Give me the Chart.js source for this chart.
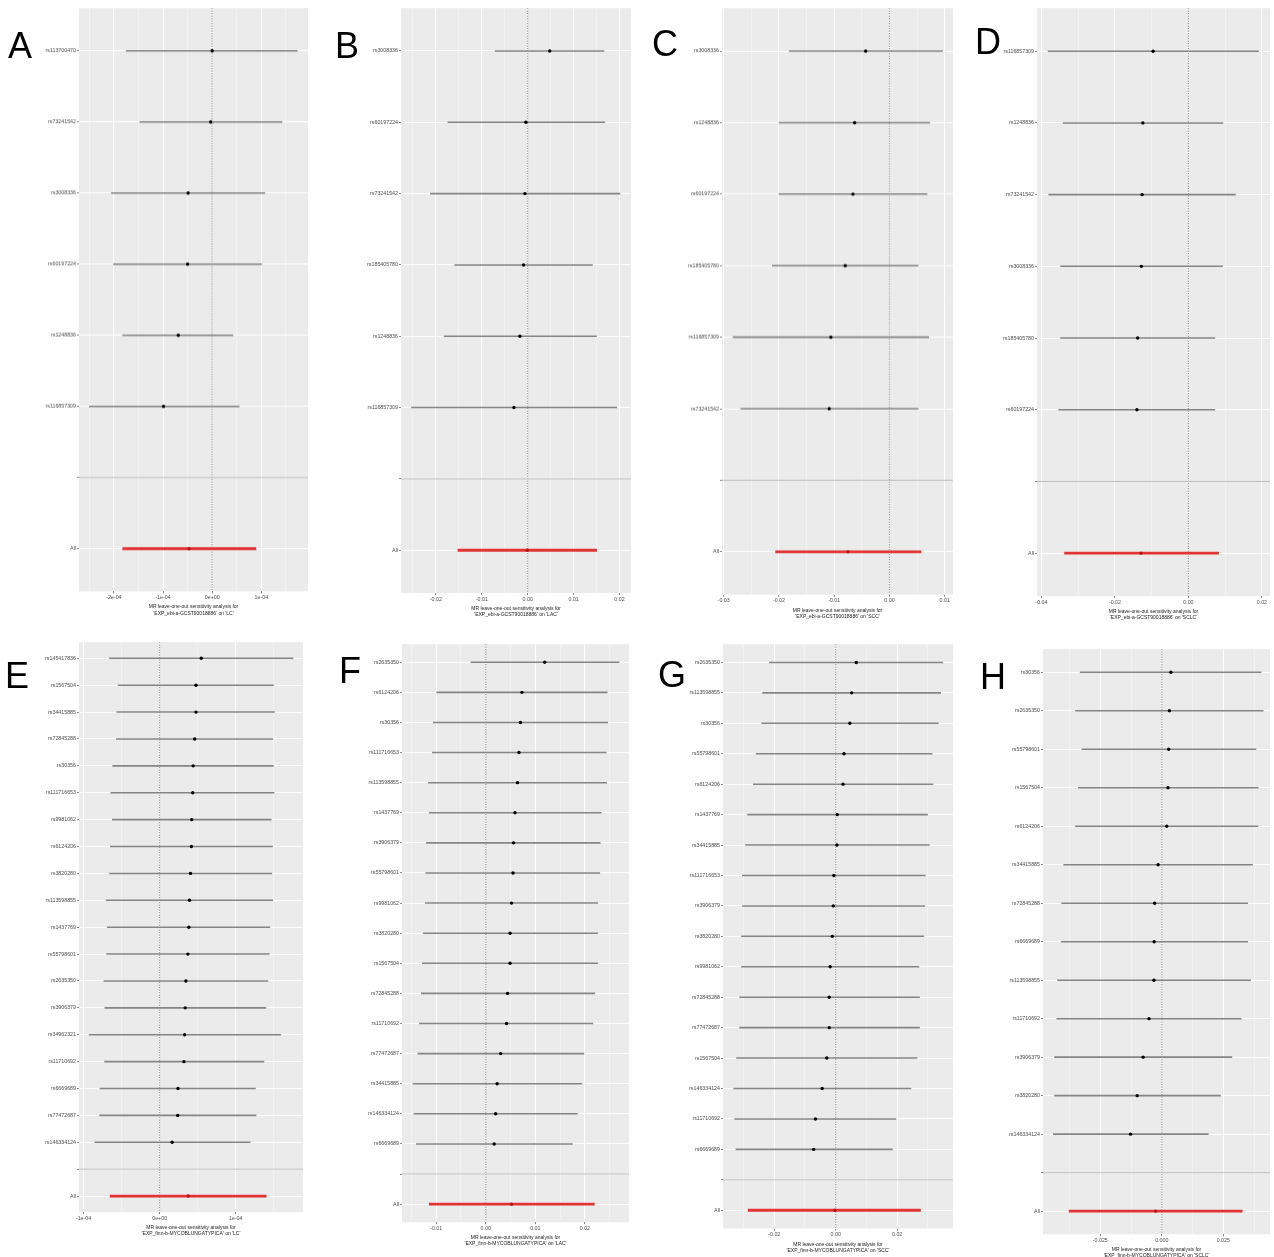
<!DOCTYPE html>
<html><head><meta charset="utf-8">
<script src="https://cdn.jsdelivr.net/npm/chart.js@4.4.0/dist/chart.umd.min.js"></script>
<style>
html,body{margin:0;padding:0;background:#fff;}
body{width:1274px;height:1257px;position:relative;overflow:hidden;font-family:"Liberation Sans",Arial,sans-serif;}
.panel{position:absolute;}
.letter{position:absolute;font-size:36px;line-height:1;color:#000;transform:translate(-50%,-50%);z-index:5;}
</style></head><body>
<script>
// ---------- DATA ----------
const outcomes = ['LC','LAC','SCC','SCLC'];
const exposureTop = 'EXP_ebi-a-GCST90018886';
const exposureBottom = 'EXP_finn-b-MYCOBLUNGATYPICA';

// Panel A
const snpsA = ['rs113700470','rs73241542','rs3008336','rs60197224','rs1248836','rs116857309'];
const betaA = [0.0e-4,-0.03e-4,-0.49e-4,-0.50e-4,-0.69e-4,-0.99e-4];
const loA   = [-1.75e-4,-1.47e-4,-2.05e-4,-2.01e-4,-1.82e-4,-2.50e-4];
const hiA   = [1.73e-4,1.42e-4,1.07e-4,1.01e-4,0.42e-4,0.55e-4];
const allA  = [-0.47e-4,-1.82e-4,0.89e-4];
const xTicksA = [-2e-4,-1e-4,0,1e-4];
const xLabelsA = ['-2e-04','-1e-04','0e+00','1e-04'];

// Panel B
const snpsB = ['rs3008336','rs60197224','rs73241542','rs185405780','rs1248836','rs116857309'];
const betaB = [0.0048,-0.0004,-0.0006,-0.0009,-0.0017,-0.0030];
const loB   = [-0.0071,-0.0174,-0.0212,-0.0159,-0.0182,-0.0253];
const hiB   = [0.0166,0.0168,0.0201,0.0141,0.0150,0.0194];
const allB  = [-0.0001,-0.0152,0.0150];
const xTicksB = [-0.02,-0.01,0,0.01,0.02];
const xLabelsB = ['-0.02','-0.01','0.00','0.01','0.02'];

// Panel C
const snpsC = ['rs3008336','rs1248836','rs60197224','rs185405780','rs116857309','rs73241542'];
const betaC = [-0.0043,-0.0063,-0.0066,-0.0080,-0.0106,-0.0109];
const loC   = [-0.0181,-0.0200,-0.0200,-0.0212,-0.0283,-0.0269];
const hiC   = [0.0096,0.0073,0.0068,0.0052,0.0071,0.0052];
const allC  = [-0.0075,-0.0206,0.0057];
const xTicksC = [-0.03,-0.02,-0.01,0,0.01];
const xLabelsC = ['-0.03','-0.02','-0.01','0.00','0.01'];

// Panel D
const snpsD = ['rs116857309','rs1248836','rs73241542','rs3008336','rs185405780','rs60197224'];
const betaD = [-0.0096,-0.0124,-0.0126,-0.0128,-0.0138,-0.0140];
const loD   = [-0.0382,-0.0341,-0.0380,-0.0348,-0.0348,-0.0353];
const hiD   = [0.0191,0.0094,0.0128,0.0093,0.0072,0.0072];
const allD  = [-0.0129,-0.0337,0.0082];
const xTicksD = [-0.04,-0.02,0,0.02];
const xLabelsD = ['-0.04','-0.02','0.00','0.02'];

// Panel E
const snpsE = ['rs145417836','rs1567504','rs34415885','rs72845288','rs30356','rs111716653','rs9981062','rs6124206','rs3820280','rs113598855','rs1437769','rs55798601','rs2635350','rs3906379','rs34962321','rs11710692','rs6669689','rs77472687','rs146334124'];
const betaE = [5.47e-5,4.78e-5,4.78e-5,4.61e-5,4.40e-5,4.35e-5,4.22e-5,4.18e-5,4.05e-5,3.92e-5,3.84e-5,3.71e-5,3.45e-5,3.36e-5,3.28e-5,3.19e-5,2.41e-5,2.37e-5,1.64e-5];
const loE   = [-6.59e-5,-5.47e-5,-5.65e-5,-5.69e-5,-6.16e-5,-6.42e-5,-6.21e-5,-6.47e-5,-6.59e-5,-7.03e-5,-6.90e-5,-6.98e-5,-7.33e-5,-7.20e-5,-9.27e-5,-7.24e-5,-7.84e-5,-7.89e-5,-8.53e-5];
const hiE   = [1.754e-4,1.496e-4,1.509e-4,1.487e-4,1.496e-4,1.504e-4,1.466e-4,1.483e-4,1.474e-4,1.487e-4,1.448e-4,1.440e-4,1.422e-4,1.397e-4,1.591e-4,1.371e-4,1.259e-4,1.267e-4,1.190e-4];
const allE  = [3.75e-5,-6.51e-5,1.401e-4];
const xTicksE = [-1e-4,0,1e-4];
const xLabelsE = ['-1e-04','0e+00','1e-04'];

// Panel F
const snpsF = ['rs2635350','rs6124206','rs30356','rs111716653','rs113598855','rs1437769','rs3906379','rs55798601','rs9981062','rs3820280','rs1567504','rs72845288','rs11710692','rs77472687','rs34415885','rs146334124','rs6669689'];
const betaF = [0.0119,0.0073,0.0070,0.0067,0.0064,0.0059,0.0056,0.0055,0.0052,0.0049,0.0049,0.0044,0.0042,0.0030,0.0023,0.0020,0.0017];
const loF   = [-0.0030,-0.0099,-0.0106,-0.0108,-0.0116,-0.0114,-0.0120,-0.0121,-0.0122,-0.0126,-0.0128,-0.0130,-0.0134,-0.0137,-0.0147,-0.0145,-0.0140];
const hiF   = [0.0269,0.0245,0.0246,0.0243,0.0244,0.0233,0.0231,0.0230,0.0226,0.0226,0.0226,0.0220,0.0216,0.0198,0.0194,0.0185,0.0175];
const allF  = [0.0052,-0.0114,0.0219];
const xTicksF = [-0.01,0,0.01,0.02];
const xLabelsF = ['-0.01','0.00','0.01','0.02'];

// Panel G
const snpsG = ['rs2635350','rs113598855','rs30356','rs55798601','rs6124206','rs1437769','rs34415885','rs111716653','rs3906379','rs3820280','rs9981062','rs72845288','rs77472687','rs1567504','rs146334124','rs11710692','rs6669689'];
const betaG = [0.0067,0.0052,0.0046,0.0027,0.0024,0.0005,0.0004,-0.0006,-0.0008,-0.0011,-0.0018,-0.0021,-0.0021,-0.0029,-0.0044,-0.0066,-0.0072];
const loG   = [-0.0216,-0.0238,-0.0241,-0.0259,-0.0268,-0.0287,-0.0294,-0.0304,-0.0304,-0.0307,-0.0307,-0.0313,-0.0313,-0.0323,-0.0332,-0.0329,-0.0325];
const hiG   = [0.0349,0.0342,0.0334,0.0314,0.0317,0.0299,0.0305,0.0292,0.0290,0.0287,0.0271,0.0273,0.0273,0.0265,0.0245,0.0196,0.0185];
const allG  = [-0.0003,-0.0285,0.0276];
const xTicksG = [-0.02,0,0.02];
const xLabelsG = ['-0.02','0.00','0.02'];

// Panel H
const snpsH = ['rs30356','rs2635350','rs55798601','rs1567504','rs6124206','rs34415885','rs72845288','rs6669689','rs113598855','rs11710692','rs3906379','rs3820280','rs146334124'];
const betaH = [0.0037,0.0031,0.0028,0.0025,0.0020,-0.0015,-0.0029,-0.0031,-0.0032,-0.0052,-0.0076,-0.0100,-0.0127];
const loH   = [-0.0332,-0.0351,-0.0325,-0.0339,-0.0351,-0.0399,-0.0407,-0.0409,-0.0424,-0.0427,-0.0436,-0.0436,-0.0441];
const hiH   = [0.0404,0.0412,0.0383,0.0392,0.0391,0.0369,0.0349,0.0349,0.0361,0.0323,0.0285,0.0239,0.0189];
const allH  = [-0.0025,-0.0377,0.0327];
const xTicksH = [-0.025,0,0.025];
const xLabelsH = ['-0.025','0.000','0.025'];

// ---------- LAYOUT ----------
const FONT = '"Liberation Sans", Arial, sans-serif';
const LABW = 70, AXH = 25;

const bgPlugin = {
  id: 'bg',
  beforeDraw(chart) {
    const {ctx, chartArea: a} = chart;
    ctx.save();
    ctx.fillStyle = '#ebebeb';
    ctx.fillRect(a.left, a.top, a.right - a.left, a.bottom - a.top);
    ctx.restore();
  }
};

function makePanel(letter, letterPos, box, xRange, snps, beta, lo, hi, all, xTicks, xLabels, exposure, outcome) {
  const n = snps.length;
  const W = box[2] - box[0] + LABW;
  const H = box[3] - box[1] + AXH;
  const div = document.createElement('div');
  div.className = 'panel';
  div.style.left = (box[0] - LABW) + 'px';
  div.style.top = box[1] + 'px';
  div.style.width = W + 'px';
  div.style.height = H + 'px';
  const cv = document.createElement('canvas');
  div.appendChild(cv);
  document.body.appendChild(div);

  const yLabels = snps.concat(['', 'All']);
  const ymax = n + 2.6;
  const step = xTicks[1] - xTicks[0];
  const xTickObjs = [];
  xTicks.forEach((v, k) => xTickObjs.push({value: v, lab: xLabels[k], minor: false}));
  const mids = [xTicks[0] - step / 2];
  for (let k = 0; k < xTicks.length; k++) mids.push(xTicks[k] + step / 2);
  mids.forEach(m => { if (m > xRange[0] && m < xRange[1]) xTickObjs.push({value: m, lab: '', minor: true}); });
  xTickObjs.sort((p, q) => p.value - q.value);

  const chart = new Chart(cv, {
    type: 'scatter',
    plugins: [bgPlugin],
    data: {
      datasets: [
        {type: 'line', data: [{x: 0, y: 0.4}, {x: 0, y: ymax}], borderColor: '#555', borderWidth: 0.8,
         borderDash: [1, 1.5], pointRadius: 0, order: 3},
        {type: 'bar', indexAxis: 'y', data: snps.map((s, i) => ({y: i + 1, x: [lo[i], hi[i]]})),
         backgroundColor: '#858585', barThickness: 0.9, grouped: false, order: 2},
        {type: 'bar', indexAxis: 'y', data: [{y: n + 2, x: [all[1], all[2]]}],
         backgroundColor: '#e23434', barThickness: 2.2, grouped: false, order: 2},
        {type: 'scatter', data: snps.map((s, i) => ({x: beta[i], y: i + 1})),
         pointRadius: 1.7, backgroundColor: '#000', borderWidth: 0, order: 1},
        {type: 'scatter', data: [{x: all[0], y: n + 2}],
         pointRadius: 1.7, backgroundColor: '#b81414', borderWidth: 0, order: 1},
        {type: 'line', data: [{x: xRange[0], y: n + 1}, {x: xRange[1], y: n + 1}],
         borderColor: '#bebebe', borderWidth: 1, pointRadius: 0, order: 0}
      ]
    },
    options: {
      responsive: true, maintainAspectRatio: false, animation: false,
      layout: {padding: 0},
      plugins: {legend: {display: false}, tooltip: {enabled: false}},
      scales: {
        x: {
          type: 'linear', position: 'bottom', min: xRange[0], max: xRange[1], offset: false,
          afterBuildTicks: sc => { sc.ticks = xTickObjs.map(t => ({value: t.value, lab: t.lab, minor: t.minor})); },
          afterFit: sc => { sc.height = AXH; },
          ticks: {autoSkip: false, maxRotation: 0, padding: 1, color: '#4d4d4d',
                  font: {family: FONT, size: 5.3},
                  callback: (v, i, t) => t[i].lab},
          grid: {
            color: c => (c.tick && c.tick.minor) ? 'rgba(255,255,255,0.6)' : '#ffffff',
            lineWidth: c => (c.tick && c.tick.minor) ? 0.6 : 1,
            tickLength: 2,
            tickColor: c => (c.tick && c.tick.minor) ? 'rgba(0,0,0,0)' : '#888',
            offset: false
          },
          border: {display: false},
          title: {display: true, color: '#222', padding: {top: 0, bottom: 0},
                  font: {family: FONT, size: 5, lineHeight: 1.25},
                  text: ['MR leave-one-out sensitivity analysis for', "'" + exposure + "' on '" + outcome + "'"]}
        },
        y: {
          type: 'linear', reverse: true, min: 0.4, max: ymax, offset: false,
          afterBuildTicks: sc => { sc.ticks = yLabels.map((l, i) => ({value: i + 1})); },
          afterFit: sc => { sc.width = LABW; },
          ticks: {autoSkip: false, padding: 1, color: '#4d4d4d', font: {family: FONT, size: 5.3},
                  callback: (v, i) => yLabels[i]},
          grid: {color: '#ffffff', lineWidth: 1, tickLength: 2, tickColor: '#888', offset: false},
          border: {display: false}
        }
      }
    }
  });

  // compensate for the automatic label padding so the plot panel lands on the target box
  const dt = chart.chartArea.top;
  const dl = chart.chartArea.left - LABW;
  if (dt > 0 || dl > 0) {
    div.style.top = (box[1] - dt) + 'px';
    div.style.height = (H + dt) + 'px';
    div.style.left = (box[0] - LABW - dl) + 'px';
    div.style.width = (W + dl) + 'px';
    chart.resize();
  }

  const L = document.createElement('div');
  L.className = 'letter';
  L.textContent = letter;
  L.style.left = letterPos[0] + 'px';
  L.style.top = letterPos[1] + 'px';
  document.body.appendChild(L);
}

makePanel('A', [20, 46],  [79, 8.4, 312, 590.6],   [-2.71e-4, 1.95e-4], snpsA, betaA, loA, hiA, allA, xTicksA, xLabelsA, exposureTop, outcomes[0]);
makePanel('B', [347, 46], [401, 8.2, 635, 593],    [-0.0276, 0.0225],  snpsB, betaB, loB, hiB, allB, xTicksB, xLabelsB, exposureTop, outcomes[1]);
makePanel('C', [665, 44], [722, 8.2, 957, 593.7],  [-0.0303, 0.0115],  snpsC, betaC, loC, hiC, allC, xTicksC, xLabelsC, exposureTop, outcomes[2]);
makePanel('D', [988, 42], [1037, 8, 1274, 596],    [-0.0412, 0.0222],  snpsD, betaD, loD, hiD, allD, xTicksD, xLabelsD, exposureTop, outcomes[3]);
makePanel('E', [17, 676], [79, 642, 307, 1212],    [-1.06e-4, 1.884e-4], snpsE, betaE, loE, hiE, allE, xTicksE, xLabelsE, exposureBottom, outcomes[0]);
makePanel('F', [350, 671],[402, 644, 633, 1222],   [-0.0169, 0.0289],  snpsF, betaF, loF, hiF, allF, xTicksF, xLabelsF, exposureBottom, outcomes[1]);
makePanel('G', [672, 675],[723, 643.7, 957, 1228], [-0.0367, 0.0382],  snpsG, betaG, loG, hiG, allG, xTicksG, xLabelsG, exposureBottom, outcomes[2]);
makePanel('H', [993, 677],[1043, 649, 1274, 1234], [-0.0483, 0.0440],  snpsH, betaH, loH, hiH, allH, xTicksH, xLabelsH, exposureBottom, outcomes[3]);
</script>
</body></html>
